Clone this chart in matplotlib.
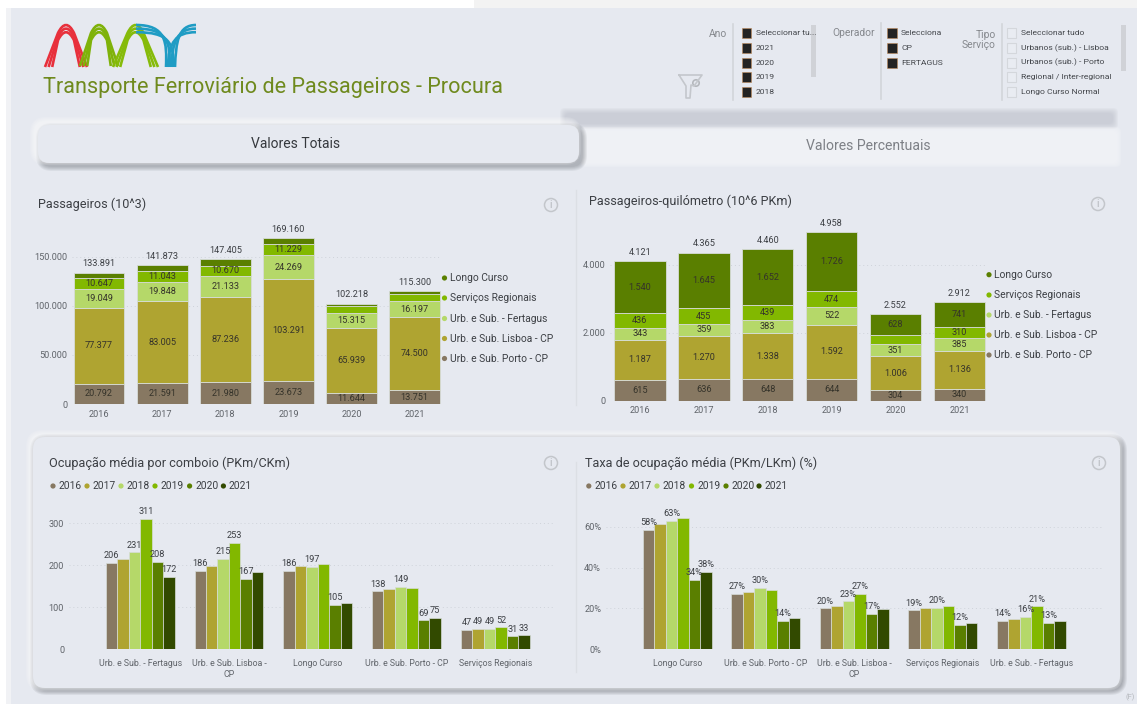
"""Painel de procura do transporte ferroviário de passageiros."""
import matplotlib
matplotlib.use("Agg")
import matplotlib.pyplot as plt
import numpy as np
from matplotlib.patches import Circle, FancyBboxPatch, PathPatch, Rectangle
from matplotlib.path import Path

anos = ["2016", "2017", "2018", "2019", "2020", "2021"]
servicos = ["Urb. e Sub. Porto - CP", "Urb. e Sub. Lisboa - CP", "Urb. e Sub. - Fertagus",
            "Serviços Regionais", "Longo Curso"]

# Passageiros (10^3), os valores sem rótulo são estimados pela diferença
pass_porto = [20792, 21591, 21980, 23673, 11644, 13751]
pass_lisboa = [77377, 83005, 87236, 103291, 65939, 74500]
pass_fertagus = [19049, 19848, 21133, 24269, 15315, 16197]
pass_regionais = [10647, 11043, 10670, 11229, 7000, 8000]
pass_longo = [6026, 6386, 6386, 6698, 2320, 2852]
pass_total = [133891, 141873, 147405, 169160, 102218, 115300]

# Passageiros-quilómetro (10^6 PKm)
pkm_porto = [615, 636, 648, 644, 304, 340]
pkm_lisboa = [1187, 1270, 1338, 1592, 1006, 1136]
pkm_fertagus = [343, 359, 383, 522, 351, 385]
pkm_regionais = [436, 455, 439, 474, 263, 310]
pkm_longo = [1540, 1645, 1652, 1726, 628, 741]
pkm_total = [4121, 4365, 4460, 4958, 2552, 2912]

ocup_categorias = ["Urb. e Sub. - Fertagus", "Urb. e Sub. Lisboa -\nCP", "Longo Curso",
                   "Urb. e Sub. Porto - CP", "Serviços Regionais"]
ocup_valores = [[206, 216, 231, 311, 208, 172],
                [186, 199, 215, 253, 167, 183],
                [186, 199, 197, 203, 105, 110],
                [138, 143, 149, 145, 69, 75],
                [47, 49, 49, 52, 31, 33]]
ocup_rotulos = [["206", "", "231", "311", "208", "172"],
                ["186", "", "215", "253", "167", ""],
                ["186", "", "197", "", "105", ""],
                ["138", "", "149", "", "69", "75"],
                ["47", "49", "49", "52", "31", "33"]]

taxa_categorias = ["Longo Curso", "Urb. e Sub. Porto - CP", "Urb. e Sub. Lisboa -\nCP",
                   "Serviços Regionais", "Urb. e Sub. - Fertagus"]
taxa_valores = [[58.5, 61.3, 62.8, 64.2, 34, 38],
                [27, 28, 30, 29, 14, 15.5],
                [20, 21, 23.5, 27, 17.5, 19.5],
                [19, 20, 20.2, 21, 12, 13],
                [14, 15, 16, 21, 13, 14]]
taxa_rotulos = [["58%", "", "63%", "", "34%", "38%"],
                ["27%", "", "30%", "", "14%", ""],
                ["20%", "", "23%", "27%", "17%", ""],
                ["19%", "", "20%", "", "12%", ""],
                ["14%", "", "16%", "21%", "13%", ""]]

slicer_ano = ["Seleccionar tu...", "2021", "2020", "2019", "2018"]
slicer_operador = ["Selecciona", "CP", "FERTAGUS"]
slicer_tipo = ["Seleccionar tudo", "Urbanos (sub.) - Lisboa", "Urbanos (sub.) - Porto",
               "Regional / Inter-regional", "Longo Curso Normal"]

W, H = 1137, 704
FUNDO = "#e6e9f0"
CORES_SERV = ["#877862", "#afa431", "#b5d869", "#82b800", "#5a7f00"]
CORES_ANO = ["#877862", "#afa431", "#b5d869", "#82b800", "#5a7f00", "#324a00"]
TXT = "#3c3f44"
TXT2 = "#60646a"

plt.rcParams["font.family"] = ["Roboto", "DejaVu Sans"]

fig = plt.figure(figsize=(W / 100, H / 100), dpi=100, facecolor="white")
bg = fig.add_axes([0, 0, 1, 1])
bg.set_xlim(0, W)
bg.set_ylim(H, 0)
bg.axis("off")


def caixa(x0, y0, x1, y1, raio, **kw):
    p = FancyBboxPatch((x0, y0), x1 - x0, y1 - y0,
                       boxstyle=f"round,pad=0,rounding_size={raio}", **kw)
    bg.add_patch(p)
    return p


def caixa_sombra(x0, y0, x1, y1, raio, d=3, n=6, forca=0.05):
    # sombra em baixo/direita, brilho branco em cima/esquerda
    for i in range(n, 0, -1):
        caixa(x0 - i + d, y0 - i + d, x1 + i + d, y1 + i + d, raio + i,
              fc="#3a3f48", ec="none", alpha=forca)
    for i in range(n, 0, -1):
        caixa(x0 - i - d, y0 - i - d, x1 + i - d, y1 + i - d, raio + i,
              fc="white", ec="none", alpha=0.13)
    caixa(x0, y0, x1, y1, raio, fc=FUNDO, ec="none")


def faixa_suave(x0, y0, x1, y1, cor, n=6, alfa=0.12):
    for i in range(n):
        caixa(x0 + i, y0 + i, x1 - i, y1 - i, 5, fc=cor, ec="none", alpha=alfa)


def arco(x0, x1, topo, base, cor):
    xm = (x0 + x1) / 2
    for i in range(3):
        o = i * 3.6
        y_top = topo + o
        v = [(x0 + o, base), (xm - 8, y_top + 9), (xm, y_top - 7), (xm + 8, y_top + 9), (x1 - o, base)]
        c = [Path.MOVETO, Path.LINETO, Path.CURVE3, Path.CURVE3, Path.LINETO]
        bg.add_patch(PathPatch(Path(v, c), fc="none", ec=cor, lw=1.9, capstyle="butt"))


def logotipo():
    arco(45, 87, 24, 67, "#e8303c")
    arco(80, 118, 24, 66, "#7fb20a")
    arco(113, 158, 24, 67, "#86bb0a")
    for i in range(3):
        o = i * 3.6
        v = [(136, 25 + o), (166 + o * 0.3, 25 + o), (167 + o, 42), (166 + o, 67)]
        bg.add_patch(PathPatch(Path(v, [Path.MOVETO, Path.CURVE4, Path.CURVE4, Path.CURVE4]),
                               fc="none", ec="#1f9cc4", lw=1.9))
        v = [(196, 25 + o), (178 - o * 0.3, 25 + o), (176 - o, 42), (175 - o, 67)]
        bg.add_patch(PathPatch(Path(v, [Path.MOVETO, Path.CURVE4, Path.CURVE4, Path.CURVE4]),
                               fc="none", ec="#1f9cc4", lw=1.9))


def icone_info(x, y):
    bg.add_patch(Circle((x, y), 6.5, fc="none", ec="#c3c6cb", lw=1.1))
    bg.text(x, y + 0.3, "i", color="#b4b7bc", fontsize=7.5, ha="center", va="center")


def slicer(x_div, y_div, x_q, x_txt, itens, cheio=True):
    bg.plot([x_div, x_div], y_div, color="#d2d5da", lw=1.2)
    for i, nome in enumerate(itens):
        y = 33 + i * 14.8
        if cheio:
            bg.add_patch(Rectangle((x_q, y - 5), 9.5, 10, fc="#232323", ec="#c08a55", lw=0.4))
        else:
            bg.add_patch(Rectangle((x_q, y - 5), 9.5, 10, fc="#e9ecf2", ec="#d4d7dc", lw=0.8))
        bg.text(x_txt, y, nome, fontsize=6.1, color="#43464b", va="center")


def eixo_px(x0, y0, x1, yzero, c0, passo, px_por_un):
    ax = fig.add_axes([x0 / W, 1 - yzero / H, (x1 - x0) / W, (yzero - y0) / H])
    ax.patch.set_alpha(0)
    ax.set_xlim((x0 - c0) / passo, (x1 - c0) / passo)
    ax.set_ylim(0, (yzero - y0) / px_por_un)
    for s in ax.spines.values():
        s.set_visible(False)
    ax.tick_params(length=0, labelsize=6.6, labelcolor=TXT2)
    ax.grid(axis="y", color="#cfd3da", lw=0.7, ls=(0, (1, 3)))
    ax.set_axisbelow(True)
    return ax


def pontos(v):
    return f"{v:,}".replace(",", ".")


def empilhado(ax, camadas, totais, minimo):
    x = np.arange(len(anos))
    base = np.zeros(len(anos))
    for k, valores in enumerate(camadas):
        b = ax.bar(x, valores, 0.805, bottom=base, color=CORES_SERV[k], ec="#d7dcd8", lw=0.6)
        rot = [pontos(v) if v >= minimo else "" for v in valores]
        ax.bar_label(b, labels=rot, label_type="center", fontsize=6.6, color="#35332a")
        base += np.array(valores)
    ax.bar_label(b, labels=[pontos(v) for v in totais], padding=3, fontsize=6.6, color=TXT)
    ax.set_xticks(x, anos)
    ax.tick_params(axis="x", pad=4)


def agrupado(ax, categorias, valores, rotulos):
    x = np.arange(len(categorias))
    valores = np.array(valores).T
    rotulos = list(zip(*rotulos))
    larg = 0.776 / 6
    for k in range(6):
        b = ax.bar(x + (k - 2.5) * larg, valores[k], larg, color=CORES_ANO[k], ec="#d7dcd8", lw=0.5)
        ax.bar_label(b, labels=rotulos[k], padding=2, fontsize=6.6, color=TXT)
    ax.set_xticks(x, categorias, fontsize=6.3, linespacing=1.25)
    ax.tick_params(axis="x", pad=7)


def legenda_serv(x_ponto, ys):
    for nome, cor, y in zip(servicos[::-1], CORES_SERV[::-1], ys):
        bg.add_patch(Circle((x_ponto, y), 2.6, fc=cor, ec="none"))
        bg.text(x_ponto + 5.5, y, nome, fontsize=7.4, color=TXT, va="center")


def legenda_anos(xs, y):
    for nome, cor, xp in zip(anos, CORES_ANO, xs):
        bg.add_patch(Circle((xp, y), 2.6, fc=cor, ec="none"))
        bg.text(xp + 5.5, y, nome, fontsize=7.4, color=TXT, va="center")


# ---- fundo ----
bg.add_patch(Rectangle((474, 0), W - 474, 8, fc="#f3f3f3", ec="none"))
bg.add_patch(Rectangle((6, 8), 5, H - 8, fc="#f1f2f5", ec="none"))
bg.add_patch(Rectangle((11, 8), W - 11, H - 8, fc=FUNDO, ec="none"))

logotipo()
bg.text(43, 87, "Transporte Ferroviário de Passageiros - Procura", fontsize=15.6,
        color="#6f8a1e", va="center")

# ---- botões ----
faixa_suave(560, 108, 1118, 129, "#b8bcc6")
faixa_suave(580, 127, 1121, 167, "#f4f5f8", n=5, alfa=0.25)
caixa_sombra(38, 125, 579, 163, 11, d=3, n=5, forca=0.07)
bg.text(296, 144, "Valores Totais", fontsize=10, color="#35383d", ha="center", va="center")
bg.text(868, 146, "Valores Percentuais", fontsize=10.1, color="#7d8086", ha="center", va="center")

# ---- filtros ----
bg.text(727, 34, "Ano", fontsize=7.4, color="#85888d", ha="right", va="center")
bg.text(874.5, 33, "Operador", fontsize=7.4, color="#85888d", ha="right", va="center")
bg.text(995.7, 40, "Tipo\nServiço", fontsize=7.4, color="#85888d", ha="right", va="center",
        multialignment="right", linespacing=1.05)
slicer(733, (24, 100), 741.5, 756, slicer_ano)
slicer(881, (23, 99), 887, 901, slicer_operador)
slicer(1002, (24, 100), 1006.5, 1020.6, slicer_tipo, cheio=False)
bg.add_patch(Rectangle((811, 25), 4.5, 52, fc="#d0d2d7", ec="none"))
bg.add_patch(Rectangle((1121, 25), 4.5, 46, fc="#d0d2d7", ec="none"))
funil = [(679, 75), (702, 75), (694, 86), (691, 85), (690, 98), (686, 98), (686, 86), (679, 75)]
bg.plot(*zip(*funil), color="#c4c7cc", lw=1.2)
bg.add_patch(Circle((696, 83), 3.2, fc=FUNDO, ec="#b5b8bd", lw=1.2))

# ---- separador e painel inferior ----
bg.plot([576, 576], [190, 405], color="#dcdfe5", lw=1)
caixa_sombra(33, 437, 1120, 688, 12, d=2, n=5, forca=0.08)
bg.plot([576, 576], [462, 672], color="#dcdfe5", lw=1)

# ---- títulos ----
bg.text(38, 204, "Passageiros (10^3)", fontsize=9.1, color=TXT, va="center")
bg.text(589, 201, "Passageiros-quilómetro (10^6 PKm)", fontsize=9.1, color=TXT, va="center")
bg.text(49, 463, "Ocupação média por comboio (PKm/CKm)", fontsize=9.1, color=TXT, va="center")
bg.text(585, 463, "Taxa de ocupação média (PKm/LKm) (%)", fontsize=9.1, color=TXT, va="center")
icone_info(551, 205)
icone_info(1098, 204)
icone_info(551, 463)
icone_info(1099, 463)

# ---- gráficos ----
ax1 = eixo_px(72, 222, 441, 404, 99.1, 63.1, 147.3 / 150000)
empilhado(ax1, [pass_porto, pass_lisboa, pass_fertagus, pass_regionais, pass_longo], pass_total, 10000)
ax1.set_yticks([0, 50000, 100000, 150000], ["0", "50.000", "100.000", "150.000"])
legenda_serv(444.5, [278, 298, 318.5, 338.5, 358.5])

ax2 = eixo_px(610, 218, 986, 400.7, 639.9, 63.9, 135.7 / 4000)
empilhado(ax2, [pkm_porto, pkm_lisboa, pkm_fertagus, pkm_regionais, pkm_longo], pkm_total, 300)
ax2.set_yticks([0, 2000, 4000], ["0", "2.000", "4.000"])
legenda_serv(989, [274.7, 295, 315, 335, 355])

ax3 = eixo_px(69, 500, 555, 649.3, 140.2, 88.75, 126 / 300)
agrupado(ax3, ocup_categorias, ocup_valores, ocup_rotulos)
ax3.set_yticks([0, 100, 200, 300])
legenda_anos([53, 87, 121, 155, 189.6, 223.4], 486)

ax4 = eixo_px(606, 500, 1103, 649.3, 677.2, 88.5, 122.6 / 60)
agrupado(ax4, taxa_categorias, taxa_valores, taxa_rotulos)
ax4.set_yticks([0, 20, 40, 60], ["0%", "20%", "40%", "60%"])
legenda_anos([588.8, 623, 657, 691.5, 726, 759], 486)

bg.text(1130, 697, "(F)", fontsize=5.5, color="#b5b8bd", ha="center", va="center")

fig.savefig("out.png", dpi=100, facecolor="white")
